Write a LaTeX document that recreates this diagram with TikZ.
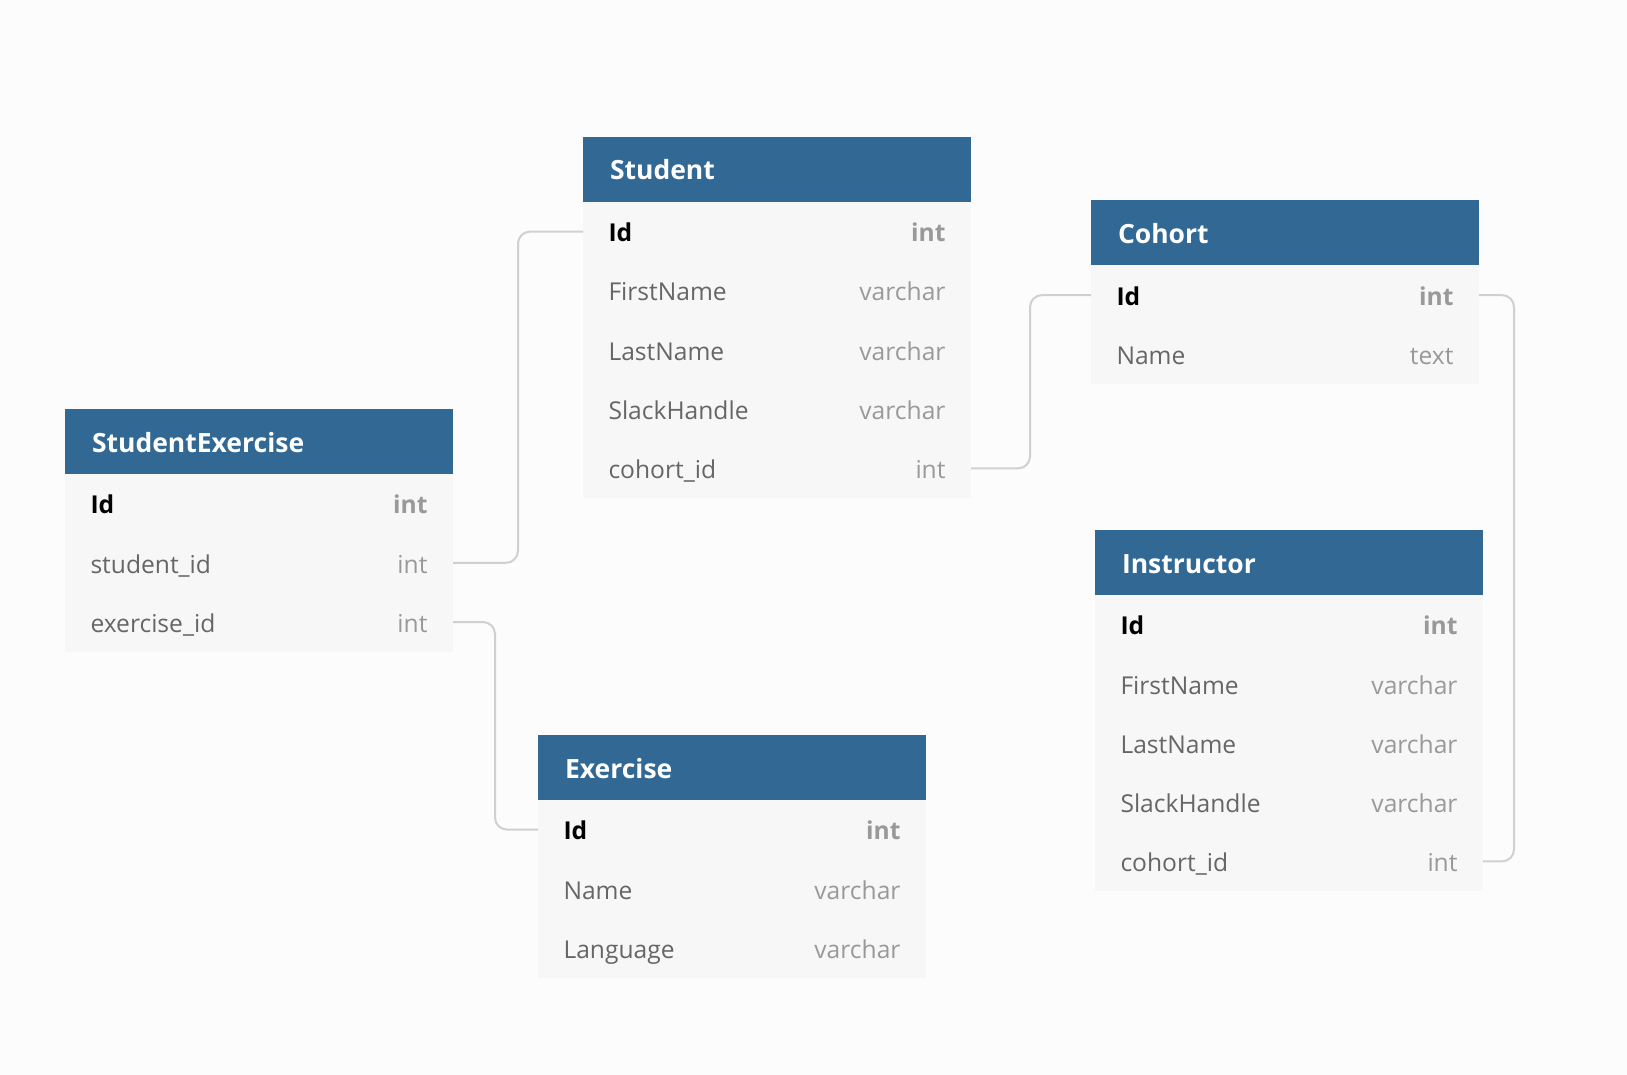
\documentclass[tikz,border=0pt]{standalone}
\usepackage{fontspec}
\setmainfont{Open Sans}
\usetikzlibrary{positioning}
\definecolor{hdrblue}{RGB}{49,104,148}
\definecolor{rowgrey}{HTML}{F7F7F7}
\definecolor{bggrey}{HTML}{FCFCFC}
\definecolor{fieldgrey}{HTML}{666666}
\definecolor{typegrey}{HTML}{999999}
\definecolor{linkgrey}{HTML}{D0D0D0}

\begin{document}
\begin{tikzpicture}[x=1pt, y=-1pt,
  tbl/.style={anchor=north west, fill=hdrblue, text=white, minimum width=388pt, minimum height=65pt,
    text width=334pt, inner xsep=27pt, inner ysep=0pt, outer sep=0pt, align=left,
    text height=26pt, text depth=5pt, font={\fontsize{26.5}{30}\selectfont\bfseries}},
  row/.style={fill=rowgrey, text=fieldgrey, minimum width=388pt, minimum height=59.2pt,
    text width=337pt, inner xsep=25.5pt, inner ysep=0pt, outer sep=0pt, align=left,
    text height=26pt, text depth=5.6pt, font={\fontsize{24.6}{30}\selectfont}},
  keyrow/.style={row, text=black, font={\fontsize{24.6}{30}\selectfont\bfseries}},
  link/.style={draw=linkgrey, line width=2pt, rounded corners=12pt}]
\fill[bggrey] (0,0) rectangle (1627,1075);
\useasboundingbox (0,0) rectangle (1627,1075);

% Student
\node[tbl] (stu) at (583,137) {Student};
\node[keyrow, below=0pt of stu] (stu1) {Id\hfill\textcolor{typegrey}{int}};
\node[row, below=0pt of stu1] (stu2) {FirstName\hfill\textcolor{typegrey}{varchar}};
\node[row, below=0pt of stu2] (stu3) {LastName\hfill\textcolor{typegrey}{varchar}};
\node[row, below=0pt of stu3] (stu4) {SlackHandle\hfill\textcolor{typegrey}{varchar}};
\node[row, below=0pt of stu4] (stu5) {cohort\_id\hfill\textcolor{typegrey}{int}};

% StudentExercise
\node[tbl] (se) at (65,409) {StudentExercise};
\node[keyrow, below=0pt of se] (se1) {Id\hfill\textcolor{typegrey}{int}};
\node[row, below=0pt of se1] (se2) {student\_id\hfill\textcolor{typegrey}{int}};
\node[row, below=0pt of se2] (se3) {exercise\_id\hfill\textcolor{typegrey}{int}};

% Cohort
\node[tbl] (co) at (1091,200.5) {Cohort};
\node[keyrow, below=0pt of co] (co1) {Id\hfill\textcolor{typegrey}{int}};
\node[row, below=0pt of co1] (co2) {Name\hfill\textcolor{typegrey}{text}};

% Exercise
\node[tbl] (ex) at (538,735) {Exercise};
\node[keyrow, below=0pt of ex] (ex1) {Id\hfill\textcolor{typegrey}{int}};
\node[row, below=0pt of ex1] (ex2) {Name\hfill\textcolor{typegrey}{varchar}};
\node[row, below=0pt of ex2] (ex3) {Language\hfill\textcolor{typegrey}{varchar}};

% Instructor
\node[tbl] (ins) at (1095,530) {Instructor};
\node[keyrow, below=0pt of ins] (ins1) {Id\hfill\textcolor{typegrey}{int}};
\node[row, below=0pt of ins1] (ins2) {FirstName\hfill\textcolor{typegrey}{varchar}};
\node[row, below=0pt of ins2] (ins3) {LastName\hfill\textcolor{typegrey}{varchar}};
\node[row, below=0pt of ins3] (ins4) {SlackHandle\hfill\textcolor{typegrey}{varchar}};
\node[row, below=0pt of ins4] (ins5) {cohort\_id\hfill\textcolor{typegrey}{int}};

% links
\draw[link] (stu1.west) -- ++(-65,0) |- (se2.east);
\draw[link] (se3.east) -- ++(42,0) |- (ex1.west);
\draw[link] (stu5.east) -- ++(59,0) |- (co1.west);
\draw[link] (co1.east) -- ++(35,0) |- (ins5.east);
\end{tikzpicture}
\end{document}
